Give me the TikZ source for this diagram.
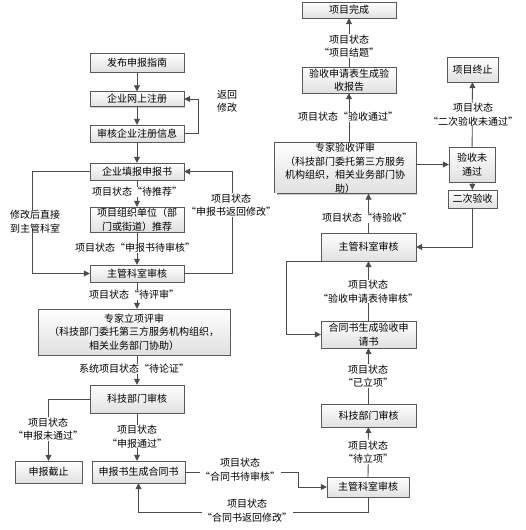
\documentclass[tikz,border=0pt]{standalone}
\usepackage{fontspec}
\setmainfont{Noto Sans CJK SC}[RawFeature=+fwid]
\usetikzlibrary{arrows.meta,shadows}

\begin{document}
\begin{tikzpicture}[
    x=1pt, y=-1pt,
    font=\fontsize{10}{13.5}\selectfont,
    box/.style={rectangle, draw=black!65, top color=white, bottom color=black!12, align=center, inner sep=0.5pt,
        drop shadow={shadow xshift=1.3pt, shadow yshift=-1.3pt, fill=black!40, opacity=0.5}},
    lbl/.style={fill=white, align=center, inner sep=0.5pt},
    arr/.style={-{Triangle[length=6pt,width=6pt]}, draw=black!70, line width=0.8pt}
]
    \useasboundingbox (0,0) rectangle (526,530);

    % Application stage
    \node[box, minimum width=94pt, minimum height=19pt] (guide) at (137,62.5) {发布申报指南};
    \node[box, minimum width=94pt, minimum height=15pt] (register) at (137,99) {企业网上注册};
    \node[box, minimum width=94pt, minimum height=17pt] (verify) at (137,133.5) {审核企业注册信息};
    \node[box, minimum width=94pt, minimum height=17pt] (form) at (137,171.5) {企业填报申报书};
    \node[box, minimum width=94pt, minimum height=25pt] (recom) at (137,219.5) {项目组织单位（部\\门或街道）推荐};
    \node[box, minimum width=94pt, minimum height=17pt] (dept1) at (137,273.5) {主管科室审核};
    \node[box, minimum width=192pt, minimum height=46pt] (review1) at (134,332) {专家立项评审\\（科技部门委托第三方服务机构组织，\\相关业务部门协助）};
    \node[box, minimum width=94pt, minimum height=28pt] (tech1) at (137,399) {科技部门审核};
    \node[box, minimum width=67pt, minimum height=22pt] (stop) at (48.5,472) {申报截止};
    \node[box, minimum width=93pt, minimum height=22pt] (contract) at (138.5,472) {申报书生成合同书};

    % Acceptance stage
    \node[box, minimum width=82pt, minimum height=20pt] (dept3) at (368,487) {主管科室审核};
    \node[box, minimum width=95pt, minimum height=23pt] (tech2) at (368.5,415.5) {科技部门审核};
    \node[box, minimum width=95pt, minimum height=27pt] (appl) at (368.5,334.5) {合同书生成验收申\\请书};
    \node[box, minimum width=95pt, minimum height=28pt] (dept2) at (368.5,247) {主管科室审核};
    \node[box, minimum width=142pt, minimum height=50pt] (review2) at (345,168) {专家验收评审\\（科技部门委托第三方服务\\机构组织，相关业务部门协\\助）};
    \node[box, minimum width=94pt, minimum height=26pt] (report) at (349,80) {验收申请表生成验\\收报告};
    \node[box, minimum width=94pt, minimum height=16pt] (done) at (349,10) {项目完成};
    \node[box, minimum width=46pt, minimum height=35pt] (fail) at (472,164.5) {验收未\\通过};
    \node[box, minimum width=49pt, minimum height=18pt] (second) at (472.5,199) {二次验收};
    \node[box, minimum width=51pt, minimum height=25pt] (term) at (472.5,69.5) {项目终止};

    % Arrows, left
    \draw[arr] (guide) -- (register);
    \draw[arr] (register) -- (verify);
    \draw[arr] (verify) -- (form);
    \draw[arr] (verify.east) -- ++(14,0) |- (register.east);
    \draw[arr] (form) -- (recom);
    \draw[arr] (recom) -- (dept1);
    \draw[arr] (form.west) -- ++(-57,0) |- (dept1.west);
    \draw[arr] (dept1.east) -- ++(48,0) |- (form.east);
    \draw[arr] (dept1.south) -- (dept1.south |- review1.north);
    \draw[arr] (tech1.north |- review1.south) -- (tech1.north);
    \draw[arr] (tech1.west) -| (stop.north);
    \draw[arr] (tech1) -- (contract.north -| tech1);
    \draw[arr] (contract.east) -- ++(113,0) |- (dept3.west);
    \draw[arr] (dept3.south) -- ++(0,15) -| (contract.south);

    % Arrows, right
    \draw[arr] (dept3) -- (tech2);
    \draw[arr] (tech2) -- (appl);
    \draw[arr] (appl) -- (dept2);
    \draw[arr] (dept2.south west) -- ++(-34,0) |- (appl.west);
    \draw[arr] (dept2.north) -- (dept2.north |- review2.south);
    \draw[arr] (report.south |- review2.north) -- (report.south);
    \draw[arr] (report) -- (done);
    \draw[arr] (review2.east |- fail.west) -- (fail.west);
    \draw[arr] (fail) -- (second);
    \draw[arr] (fail) -- (term);
    \draw[arr] (second.south) |- (dept2.east);

    % Status labels
    \node[align=center] (back) at (227,101.5) {返回\\修改};
    \node[lbl] (s1) at (137,192) {项目状态“待推荐”};
    \node[lbl] (s2) at (135,248) {项目状态“申报书待审核”};
    \node[lbl] (s3) at (35,221.5) {修改后直接\\到主管科室};
    \node[lbl] (s4) at (231,205) {项目状态\\“申报书返回修改”};
    \node[lbl] (s5) at (134,295) {项目状态“待评审”};
    \node[lbl] (s6) at (134,369) {系统项目状态“待论证”};
    \node[lbl] (s7) at (48,429) {项目状态\\“申报未通过”};
    \node[lbl] (s8) at (137,436.5) {项目状态\\“申报通过”};
    \node[lbl] (s9) at (240,469.5) {项目状态\\“合同书待审核”};
    \node[lbl] (s10) at (247,510.5) {项目状态\\“合同书返回修改”};
    \node[lbl] (s11) at (368,452) {项目状态\\“待立项”};
    \node[lbl] (s12) at (368,376) {项目状态\\“已立项”};
    \node[lbl] (s13) at (368,291.5) {项目状态\\“验收申请表待审核”};
    \node[lbl] (s14) at (367,218) {项目状态“待验收”};
    \node[lbl] (s15) at (348,117) {项目状态“验收通过”};
    \node[lbl] (s16) at (349,46) {项目状态\\“项目结题”};
    \node[lbl] (s17) at (473,114.5) {项目状态\\“二次验收未通过”};
\end{tikzpicture}
\end{document}
